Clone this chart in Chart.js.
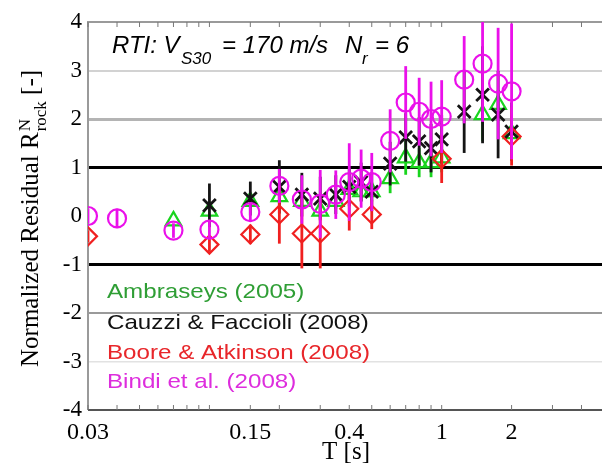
<!DOCTYPE html>
<html>
<head>
<meta charset="utf-8">
<script src="https://cdn.jsdelivr.net/npm/chart.js@4.4.0/dist/chart.umd.min.js"></script>
<style>
  html, body { margin: 0; padding: 0; background: #fff; overflow: hidden; }
  #wrap { position: relative; width: 620px; height: 467px; }
</style>
</head>
<body>
<div id="wrap"><canvas id="residuals"></canvas></div>
<script>
// Spectral periods T [s]
const periods = [0.03, 0.04, 0.07, 0.1, 0.15, 0.2, 0.25, 0.3, 0.35, 0.4, 0.45, 0.5,
                 0.6, 0.7, 0.8, 0.9, 1.0, 1.25, 1.5, 1.75, 2.0];

// normalized residuals and error half-widths per GMPE (null = not plotted)
const ambraseys    = [null, null, -0.1, 0.1, 0.3, 0.4, 0.3, 0.1, 0.3, 0.55, 0.5, 0.5,
                      0.77, 1.2, 1.1, 1.1, 1.2, null, 2.09, 2.3, 1.7];
const ambraseysErr = [0, 0, 0, 0, 0, 0.15, 0.15, 0.15, 0.15, 0.2, 0.2, 0.2,
                      0.3, 0.35, 0.3, 0.3, 0.3, 0, 0.55, 0.3, 0.3];

const cauzzi    = [null, null, null, 0.22, 0.36, 0.6, 0.44, 0.36, 0.44, 0.6, 0.7, 0.5,
                   1.08, 1.62, 1.54, 1.4, 1.58, 2.15, 2.5, 2.09, 1.74];
const cauzziErr = [0, 0, 0, 0.45, 0.35, 0.55, 0.45, 0.45, 0.4, 0.4, 0.4, 0.4,
                   0.45, 0.5, 0.5, 0.5, 0.5, 0.85, 1.0, 0.9, 0.6];

const boore    = [-0.42, null, null, -0.59, -0.38, 0.03, -0.36, -0.36, null, 0.15, null, 0.03,
                  null, null, null, null, 1.18, null, null, null, 1.64];
const booreErr = [0.12, 0, 0, 0.15, 0.2, 0.6, 0.72, 0.72, 0, 0.45, 0, 0.3,
                  0, 0, 0, 0, 0.5, 0, 0, 0, 0.6];

const bindi    = [0.0, -0.05, -0.3, -0.28, 0.08, 0.62, 0.34, 0.25, 0.44, 0.7, 0.77, 0.7,
                  1.55, 2.34, 2.15, 2.0, 2.05, 2.81, 3.14, 2.73, 2.57];
const bindiErr = [0.15, 0.2, 0.15, 0.2, 0.2, 0.35, 0.5, 0.7, 0.5, 0.8, 0.6, 0.6,
                  0.65, 0.75, 0.7, 0.77, 0.75, 0.9, 1.2, 1.15, 1.4];

// axis ticks
const xTickValues = [0.03, 0.04, 0.05, 0.06, 0.07, 0.08, 0.09, 0.1, 0.15, 0.2, 0.3, 0.4,
                     0.5, 0.6, 0.7, 0.8, 0.9, 1, 2, 3, 4, 5];
const xTickLabels = [0.03, 0.15, 0.4, 1, 2];
const yTickValues = [-4, -3, -2, -1, 0, 1, 2, 3, 4];

const legendEntries = [
  { text: "Ambraseys (2005)",         color: "#2f9e35" },
  { text: "Cauzzi & Faccioli (2008)", color: "#111111" },
  { text: "Boore & Atkinson (2008)",  color: "#e8262a" },
  { text: "Bindi et al. (2008)",      color: "#dd2ddd" }
];

const serif = "'Liberation Serif', 'Times New Roman', serif";
const sans = "'Liberation Sans', Arial, sans-serif";

const pts = (vals) => periods.map((t, i) => ({ x: t, y: vals[i] }));

function series(label, vals, errs, color, style, order, bw) {
  return {
    label, data: pts(vals), errors: errs, order,
    showLine: false,
    pointStyle: style,
    pointRadius: 9,
    pointHoverRadius: 9,
    pointBorderWidth: bw,
    pointBorderColor: color,
    pointBackgroundColor: "rgba(0,0,0,0)",
    errorColor: color
  };
}

// grid line look per y value: black reference lines at +/-1, grey elsewhere
function gridColor(v) {
  if (v === 1 || v === -1) return "#000";
  if (v === 2) return "#b4b4b4";
  if (v === 3) return "#d2d2d2";
  if (v === -2) return "#9a9a9a";
  if (v === -3) return "#e2e2e2";
  return "rgba(0,0,0,0)";
}
function gridWidth(v) {
  if (v === 1 || v === -1) return 3;
  if (v === 2) return 3;
  if (v === 3 || v === -2) return 2;
  return 1.5;
}

// vertical error bars, drawn just beneath each dataset's markers
const errorBars = {
  id: "errorBars",
  beforeDatasetDraw(chart, args) {
    const ds = chart.data.datasets[args.index];
    if (!ds.errors) return;
    const { ctx, chartArea: a, scales: { y } } = chart;
    ctx.save();
    ctx.beginPath();
    ctx.rect(a.left, a.top, a.right - a.left, a.bottom - a.top);
    ctx.clip();
    ctx.strokeStyle = ds.errorColor;
    ctx.lineWidth = 2.8;
    args.meta.data.forEach((el, i) => {
      const v = ds.data[i].y, e = ds.errors[i];
      if (v === null || el.skip || !e) return;
      ctx.beginPath();
      ctx.moveTo(el.x, y.getPixelForValue(v + e));
      ctx.lineTo(el.x, y.getPixelForValue(v - e));
      ctx.stroke();
    });
    ctx.restore();
  }
};

// axes frame plus inward tick marks on the log axis
const frame = {
  id: "frame",
  beforeDatasetsDraw(chart) {
    const { ctx, chartArea: a, scales: { x } } = chart;
    ctx.save();
    ctx.lineWidth = 2;
    ctx.strokeStyle = "#9a9a9a";
    ctx.beginPath();
    ctx.moveTo(a.right + 5, a.top);
    ctx.lineTo(a.left, a.top);
    ctx.lineTo(a.left, a.bottom);
    ctx.stroke();
    ctx.strokeStyle = "#555";
    ctx.beginPath();
    ctx.moveTo(a.left, a.bottom);
    ctx.lineTo(a.right + 5, a.bottom);
    ctx.stroke();
    ctx.lineWidth = 1;
    ctx.strokeStyle = "#777";
    x.ticks.forEach(t => {
      const px = x.getPixelForValue(t.value);
      ctx.beginPath();
      ctx.moveTo(px, a.bottom); ctx.lineTo(px, a.bottom - 5);
      ctx.moveTo(px, a.top); ctx.lineTo(px, a.top + 5);
      ctx.stroke();
    });
    ctx.restore();
  }
};

// annotation, hand legend and the y-axis title with super/subscripts
const labels = {
  id: "labels",
  afterDraw(chart) {
    const ctx = chart.ctx;
    ctx.save();
    ctx.fillStyle = "#000";
    ctx.textBaseline = "alphabetic";
    ctx.textAlign = "left";
    ctx.font = "italic 24px " + sans;
    ctx.fillText("RTI: V", 112, 53);
    ctx.fillText("= 170 m/s", 222, 53);
    ctx.fillText("N", 345, 53);
    ctx.fillText("= 6", 375, 53);
    ctx.font = "italic 17px " + sans;
    ctx.fillText("S30", 181, 64);
    ctx.fillText("r", 362, 64);

    ctx.textBaseline = "middle";
    ctx.font = "21px " + sans;
    const rowY = [292, 323, 353, 382];
    legendEntries.forEach((e, i) => {
      ctx.save();
      ctx.translate(107, rowY[i]);
      ctx.scale(1.15, 1);
      ctx.fillStyle = e.color;
      ctx.fillText(e.text, 0, 0);
      ctx.restore();
    });

    ctx.translate(38, 367);
    ctx.rotate(-Math.PI / 2);
    ctx.textBaseline = "alphabetic";
    ctx.fillStyle = "#000";
    ctx.font = "25px " + serif;
    const main = "Normalized Residual R";
    ctx.fillText(main, 0, 0);
    let w = ctx.measureText(main).width + 1;
    ctx.font = "17px " + serif;
    ctx.fillText("N", w, -8);
    ctx.fillText("rock", w, 8);
    w += ctx.measureText("rock").width;
    ctx.font = "25px " + serif;
    ctx.fillText(" [-]", w, 0);
    ctx.restore();
  }
};

new Chart(document.getElementById("residuals"), {
  type: "scatter",
  data: {
    datasets: [
      series("Ambraseys (2005)", ambraseys, ambraseysErr, "#19d41e", "triangle", 4, 2.2),
      series("Cauzzi & Faccioli (2008)", cauzzi, cauzziErr, "#141414", "crossRot", 3, 2.8),
      series("Boore & Atkinson (2008)", boore, booreErr, "#f02020", "rectRot", 2, 2.2),
      series("Bindi et al. (2008)", bindi, bindiErr, "#ea10ea", "circle", 1, 2.2)
    ]
  },
  options: {
    responsive: true,
    maintainAspectRatio: false,
    animation: false,
    layout: { padding: { left: 0, top: 22, right: 16, bottom: 0 } },
    plugins: { legend: { display: false }, tooltip: { enabled: false } },
    scales: {
      x: {
        type: "logarithmic",
        min: 0.03,
        max: 5,
        afterBuildTicks: (s) => { s.ticks = xTickValues.map(v => ({ value: v })); },
        afterFit: (s) => { s.height = 57; },
        grid: { display: false },
        border: { display: false },
        ticks: {
          autoSkip: false,
          maxRotation: 0,
          padding: 0,
          color: "#000",
          font: { family: serif, size: 24 },
          callback: (v) => xTickLabels.includes(v) ? String(v) : ""
        },
        title: { display: true, text: "T [s]", color: "#000", padding: 0,
                 font: { family: serif, size: 25 } }
      },
      y: {
        min: -4,
        max: 4,
        afterBuildTicks: (s) => { s.ticks = yTickValues.map(v => ({ value: v })); },
        afterFit: (s) => { s.width = 88; },
        grid: {
          drawTicks: false,
          color: (c) => gridColor(c.tick.value),
          lineWidth: (c) => gridWidth(c.tick.value)
        },
        border: { display: false },
        ticks: {
          padding: 6,
          color: "#000",
          font: { family: serif, size: 23 },
          callback: (v) => String(v)
        }
      }
    }
  },
  plugins: [errorBars, frame, labels]
});
</script>
</body>
</html>
